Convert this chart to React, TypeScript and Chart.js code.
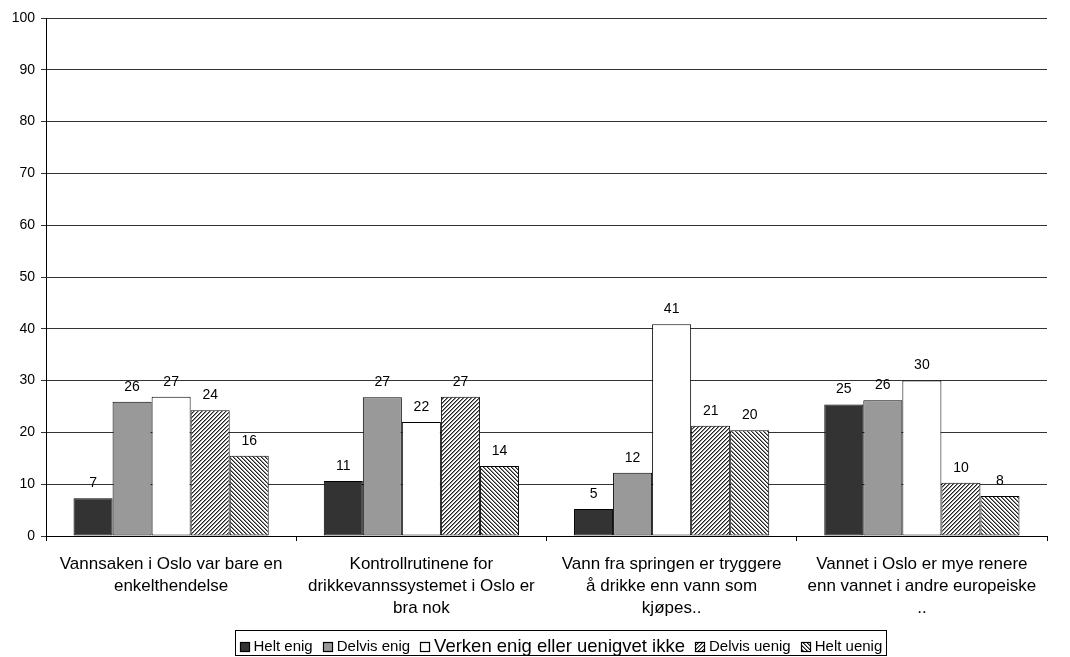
import React, { useEffect, useRef } from 'react';
import { Chart, registerables } from 'chart.js';
Chart.register(...registerables);

const categories: string[][] = [
  ['Vannsaken i Oslo var bare en', 'enkelthendelse'],
  ['Kontrollrutinene for', 'drikkevannssystemet i Oslo er', 'bra nok'],
  ['Vann fra springen er tryggere', 'å drikke enn vann som', 'kjøpes..'],
  ['Vannet i Oslo er mye renere', 'enn vannet i andre europeiske', '..'],
];
const seriesNames = ['Helt enig', 'Delvis enig', 'Verken enig eller uenigvet ikke', 'Delvis uenig', 'Helt uenig'];
const heltEnig = [7.3, 10.6, 5.2, 25.4];
const delvisEnig = [25.9, 26.8, 12.2, 26.2];
const verken = [26.9, 22.0, 40.9, 30.0];
const delvisUenig = [24.3, 26.9, 21.3, 10.3];
const heltUenig = [15.5, 13.5, 20.4, 7.7];
const yMin = 0;
const yMax = 100;
const yStep = 10;

const FONT = '"Liberation Sans", Arial, sans-serif';

function makePattern(dir: 'fwd' | 'back'): CanvasPattern | string {
  const size = 4;
  const c = document.createElement('canvas');
  c.width = size;
  c.height = size;
  const g = c.getContext('2d');
  if (!g) return '#888';
  g.fillStyle = '#ffffff';
  g.fillRect(0, 0, size, size);
  for (let x = 0; x < size; x++) {
    for (let y = 0; y < size; y++) {
      const k = dir === 'fwd' ? (x + y) % size : (x - y + size) % size;
      if (k === 0) {
        g.fillStyle = '#222222';
        g.fillRect(x, y, 1, 1);
      } else if (k === 1) {
        g.fillStyle = '#8a8a8a';
        g.fillRect(x, y, 1, 1);
      }
    }
  }
  const p = g.createPattern(c, 'repeat');
  return p || '#888';
}

export default function App() {
  const ref = useRef<HTMLCanvasElement | null>(null);
  useEffect(() => {
    if (!ref.current) return;
    const fwd = makePattern('fwd');
    const back = makePattern('back');
    const fills: any[] = ['#333333', '#999999', '#ffffff', fwd, back];
    const values = [heltEnig, delvisEnig, verken, delvisUenig, heltUenig];

    const labelPlugin = {
      id: 'valueLabels',
      afterDatasetsDraw(chart: any) {
        const ctx = chart.ctx;
        ctx.save();
        ctx.font = `14px ${FONT}`;
        ctx.fillStyle = '#000';
        ctx.textAlign = 'center';
        ctx.textBaseline = 'middle';
        chart.data.datasets.forEach((ds: any, i: number) => {
          const meta = chart.getDatasetMeta(i);
          meta.data.forEach((bar: any, j: number) => {
            ctx.fillText(String(Math.round(ds.data[j])), bar.x, bar.y - 15);
          });
        });
        ctx.restore();
      },
    };

    const legendPlugin = {
      id: 'customLegend',
      afterDraw(chart: any) {
        const ctx = chart.ctx;
        ctx.save();
        const sizes = [15, 15, 18.5, 15, 15];
        const sq = 10;
        const gapSq = 4;
        const gapItem = 10;
        const pad = 4;
        const widths = seriesNames.map((n, i) => {
          ctx.font = `${sizes[i]}px ${FONT}`;
          return ctx.measureText(n).width;
        });
        let total = pad * 2;
        widths.forEach((w, i) => {
          total += sq + gapSq + w + (i < widths.length - 1 ? gapItem : 0);
        });
        const cx = 560;
        const left = Math.round(cx - total / 2) + 0.5;
        const top = 630.5;
        const h = 25;
        ctx.strokeStyle = '#000';
        ctx.lineWidth = 1;
        ctx.strokeRect(left, top, Math.round(total), h);
        let x = left + pad;
        const cy = 646.5;
        seriesNames.forEach((n, i) => {
          const sx = Math.round(x);
          const sy = Math.round(cy - sq / 2);
          ctx.fillStyle = fills[i];
          ctx.fillRect(sx, sy, sq, sq);
          ctx.strokeStyle = '#000';
          ctx.lineWidth = 1.2;
          ctx.strokeRect(sx + 0.5, sy + 0.5, sq - 1, sq - 1);
          x += sq + gapSq;
          ctx.font = `${sizes[i]}px ${FONT}`;
          ctx.fillStyle = '#000';
          ctx.textAlign = 'left';
          ctx.textBaseline = 'middle';
          ctx.fillText(n, x, cy);
          x += widths[i] + gapItem;
        });
        ctx.restore();
      },
    };

    const chart = new Chart(ref.current, {
      type: 'bar',
      data: {
        labels: categories as any,
        datasets: seriesNames.map((name, i) => ({
          label: name,
          data: values[i],
          backgroundColor: fills[i],
          borderColor: '#000',
          borderWidth: 1,
          borderSkipped: false,
          categoryPercentage: 0.78,
          barPercentage: 1.0,
        })),
      },
      options: {
        animation: false,
        responsive: false,
        maintainAspectRatio: false,
        layout: { padding: { left: 0, right: 23, top: 18, bottom: 29 } },
        plugins: {
          legend: { display: false },
          tooltip: { enabled: false },
        },
        scales: {
          x: {
            offset: true,
            grid: {
              display: true,
              drawOnChartArea: false,
              drawTicks: true,
              tickLength: 5,
              color: '#000',
              offset: true,
            },
            border: { display: true, color: '#000', width: 1 },
            ticks: {
              autoSkip: false,
              maxRotation: 0,
              minRotation: 0,
              padding: 12,
              color: '#000',
              font: { family: FONT, size: 17, lineHeight: 1.3 },
            },
            afterFit(scale: any) {
              scale.height = 92;
            },
          },
          y: {
            min: yMin,
            max: yMax,
            ticks: {
              stepSize: yStep,
              padding: 6,
              color: '#000',
              font: { family: FONT, size: 14 },
            },
            grid: {
              color: '#333',
              lineWidth: 1,
              tickLength: 5,
              drawTicks: true,
            },
            border: { display: true, color: '#000', width: 1 },
            afterFit(scale: any) {
              scale.width = 46;
            },
          },
        },
      },
      plugins: [labelPlugin, legendPlugin],
    });
    return () => chart.destroy();
  }, []);

  return (
    <div style={{ position: 'absolute', left: 0, top: 0, width: 1070, height: 657, background: '#fff' }}>
      <canvas ref={ref} width={1070} height={657} style={{ width: 1070, height: 657, display: 'block' }} />
    </div>
  );
}
